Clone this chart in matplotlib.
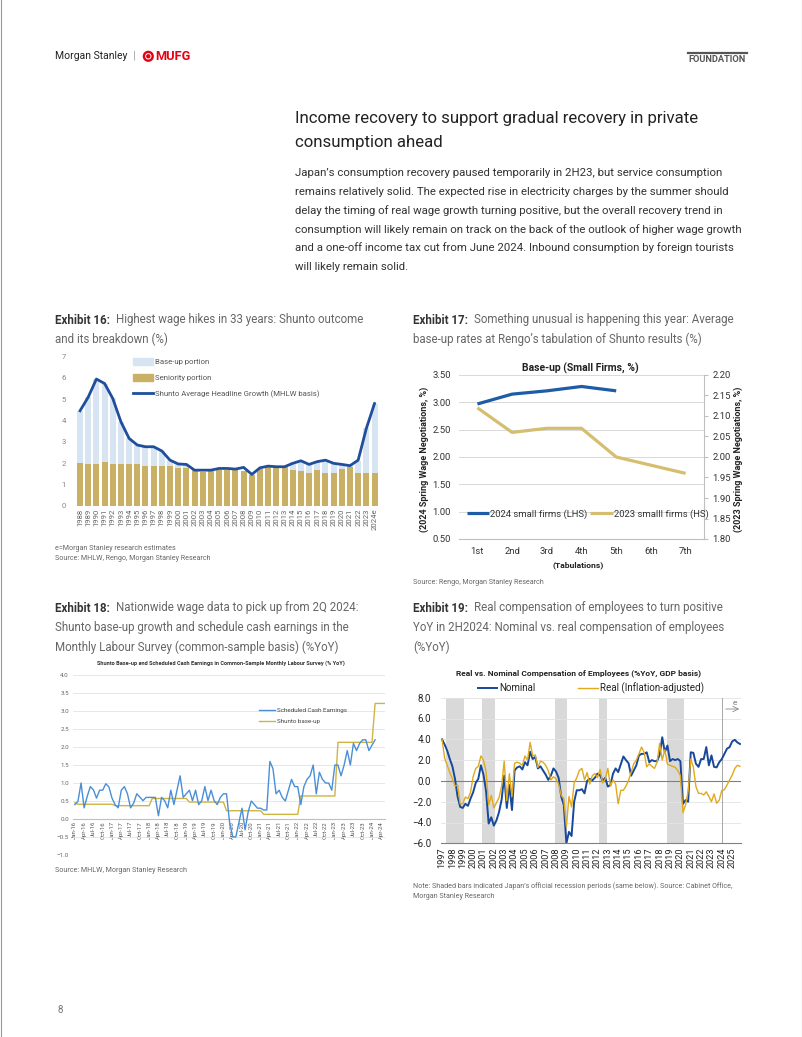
import numpy as np
import matplotlib
matplotlib.use('Agg')
import matplotlib.pyplot as plt
from matplotlib.patches import Circle, Patch
from matplotlib.lines import Line2D

W, H = 802, 1037
plt.rcParams['font.family'] = ['Liberation Sans Narrow', 'Roboto', 'DejaVu Sans']

# ---------------- Exhibit 16: Shunto outcome and breakdown
years16 = [str(y) for y in range(1988, 2024)] + ['2024e']
headline16 = [4.46, 5.10, 5.95, 5.74, 5.04, 3.94, 3.16, 2.85, 2.77, 2.77, 2.57, 2.14, 1.96,
              1.94, 1.67, 1.67, 1.67, 1.75, 1.75, 1.72, 1.80, 1.47, 1.78, 1.86, 1.83, 1.83,
              1.99, 2.11, 1.94, 2.07, 2.14, 1.99, 1.94, 1.88, 2.14, 3.63, 4.80]
seniority16 = [2.02, 1.97, 1.97, 2.05, 1.97, 1.97, 1.97, 1.97, 1.87, 1.87, 1.87, 1.87, 1.78,
               1.78, 1.67, 1.57, 1.67, 1.70, 1.70, 1.70, 1.62, 1.45, 1.72, 1.80, 1.80, 1.80,
               1.70, 1.62, 1.55, 1.70, 1.55, 1.52, 1.72, 1.80, 1.52, 1.52, 1.52]
baseup16 = [2.44, 3.13, 3.98, 3.69, 3.07, 1.97, 1.19, 0.88, 0.90, 0.90, 0.70, 0.27, 0.18,
            0.16, 0.0, 0.0, 0.0, 0.0, 0.0, 0.0, 0.0, 0.0, 0.0, 0.0, 0.0, 0.0,
            0.35, 0.50, 0.42, 0.38, 0.55, 0.48, 0.22, 0.08, 0.58, 2.11, 3.28]

# ---------------- Exhibit 17: Rengo tabulations, small firms
tabs17 = ['1st', '2nd', '3rd', '4th', '5th', '6th', '7th']
small24 = [2.97, 3.15, 3.21, 3.29, 3.21]
small23 = [2.12, 2.06, 2.07, 2.07, 2.00, 1.98, 1.96]

# ---------------- Exhibit 18: monthly, Jan-16 onwards
sched18 = [0.40, 0.49, 1.00, 0.31, 0.63, 0.90, 0.81, 0.58, 0.80, 0.80,
           0.98, 0.89, 0.58, 0.40, 0.31, 0.80, 0.90, 0.70, 0.31, 0.44,
           0.70, 0.61, 0.51, 0.60, 0.60, 0.60, 0.60, 0.09, 0.60, 0.51,
           0.31, 0.80, 0.40, 0.80, 1.20, 0.60, 0.70, 0.80, 0.51, 0.80,
           0.40, 0.51, 0.90, 0.51, 0.80, 0.51, 0.40, 0.60, 0.70, 0.70,
           -0.10, -0.50, -0.50, -0.10, 0.30, -0.30, 0.20, 0.50, 0.40, 0.30,
           0.30, 0.25, 0.25, 1.60, 1.40, 0.70, 0.80, 0.60, 0.50, 0.80,
           1.10, 0.90, 0.90, 0.40, 0.90, 1.10, 1.20, 1.50, 0.70, 1.30,
           1.10, 1.00, 1.00, 0.80, 1.50, 1.50, 1.20, 1.50, 1.90, 1.50,
           2.10, 1.90, 2.10, 2.20, 2.20, 1.90, 2.05, 2.20]
shunto_years18 = [2015, 2016, 2017, 2018, 2019, 2020, 2021, 2022, 2023, 2024]
shunto_vals18 = [0.45, 0.41, 0.37, 0.57, 0.47, 0.23, 0.13, 0.64, 2.13, 3.21]
n_months18 = 101
tick_months18 = ['Jan', 'Apr', 'Jul', 'Oct']

# ---------------- Exhibit 19: quarterly, 1997Q1 - 2025Q4
nominal19 = [4.0, 3.5, 2.9, 2.1, 1.4, 0.2, -1.5, -2.5, -2.6, -2.2,
             -2.4, -1.7, -1.1, -0.2, 0.2, 1.5, 0.6, -1.0, -4.1, -3.5,
             -4.3, -3.8, -3.0, -1.8, 0.5, -2.6, -0.4, -2.8, 1.0, 1.3,
             1.4, 1.1, 1.8, 1.5, 2.8, 2.1, 2.3, 1.2, 1.4, 1.0,
             0.6, 0.1, 0.5, 1.2, 0.9, 0.3, -1.5, -2.3, -6.0,
             -4.9, -5.3, -2.0, -0.9, -0.9, -0.8, -1.2, 0.0, 0.2, 0.05,
             0.3, 0.7, 0.55, 0.0, 0.3, -0.55, -0.4, 0.7, 1.2, 0.85,
             1.6, 2.35, 2.0, 1.7, 0.5, 1.0, 1.5, 2.45, 2.6, 2.6,
             2.75, 1.8, 2.0, 1.9, 1.9, 2.5, 4.2, 2.75, 3.4, 1.9,
             2.1, 2.0, 2.1, 1.9, -2.2, -1.85, -2.0, 2.75, 2.7, 1.65,
             1.35, 2.1, 2.1, 3.25, 1.5, 2.45, 1.35, 1.3, 1.8, 2.1,
             2.6, 3.1, 3.25, 3.8, 3.95, 3.7, 3.55]
real19 = [4.0, 2.2, 1.5, 0.8, 0.2, -0.5, -0.4, -2.2, -2.2, -1.55,
          -1.7, -1.1, 0.4, 1.2, 1.4, 2.4, 2.0, 0.9, -2.3, -1.4,
          -2.6, -2.1, -1.6, -0.5, 1.9, -1.9, 0.7, -1.5, 1.7, 1.8,
          1.7, 1.5, 2.4, 2.0, 3.7, 2.4, 2.5, 1.3, 1.9, 1.8,
          1.5, 1.0, 0.1, 0.4, 0.2, -0.3, -1.4, -1.7, -4.4, -1.5,
          -2.5, -0.2, 0.3, 1.0, 1.2, 0.1, 0.8, -0.3, 0.5, 0.7,
          0.3, 1.1, -0.2, 0.2, 1.2, -0.5, 0.1, -0.3, -2.2, -0.9,
          -0.9, -0.5, 0.05, 0.85, 1.65, 2.0, 2.6, 3.25, 2.75, 1.35,
          1.65, 1.4, 1.2, 1.8, 3.6, 2.0, 3.0, 1.6, 1.5, 1.4,
          1.3, 1.0, 0.5, -3.05, -2.3, -1.0, 2.1, 1.35, -0.55, -1.2,
          -1.2, -1.35, -1.05, -1.5, -2.0, -1.25, -2.15, -1.85, -0.9, -0.85,
          -0.4, 0.1, 0.55, 1.2, 1.5, 1.4]
recessions19 = [(1997.4, 1999.1), (2000.9, 2002.1), (2007.9, 2009.1),
                (2012.15, 2012.9), (2018.7, 2020.35)]
forecast_start19 = 2024


def rect(x0, y0, x1, y1):
    return [x0 / W, 1 - y1 / H, (x1 - x0) / W, (y1 - y0) / H]


fig = plt.figure(figsize=(W / 100, H / 100), dpi=100)
page = fig.add_axes([0, 0, 1, 1])
page.set_xlim(0, W)
page.set_ylim(H, 0)
page.axis('off')
R = fig.canvas.get_renderer()


def text_w(s, size, **kw):
    t = page.text(0, 0, s, fontsize=size, **kw)
    w = t.get_window_extent(renderer=R).width
    t.remove()
    return w


def fit(s, width, **kw):
    return 10 * width / text_w(s, 10, **kw)


def put(x, y, s, size, **kw):
    kw.setdefault('va', 'center')
    return page.text(x, y, s, fontsize=size, **kw)


# ---------------- page header
page.plot([0.5, 0.5], [0, H], color='#999', lw=0.8)
page.plot([801.5, 801.5], [0, H], color='#999', lw=0.8)
put(55, 56, 'Morgan Stanley', fit('Morgan Stanley', 72), color='#222')
put(134, 56, '|', 8, color='#999', ha='center')
page.add_patch(Circle((148.3, 56.3), 4.4, fill=False, ec='#E60012', lw=1.7))
page.add_patch(Circle((148.3, 56.3), 1.5, color='#E60012'))
put(155, 56.5, 'MUFG', fit('MUFG', 35, fontweight='bold'), color='#E60012', fontweight='bold')
page.plot([688, 746.5], [52.7, 52.7], color='#555', lw=1.6)
put(688, 59.5, 'FOUNDATION', fit('FOUNDATION', 58, fontweight='bold'),
    color='#555', fontweight='bold')

# ---------------- headline and body text
title_lines = ['Income recovery to support gradual recovery in private', 'consumption ahead']
ts = fit(title_lines[0], 405)
put(295, 119, title_lines[0], ts, color='#222')
put(295, 142, title_lines[1], ts, color='#222')

body = ['Japan\u2019s consumption recovery paused temporarily in 2H23, but service consumption',
        'remains relatively solid. The expected rise in electricity charges by the summer should',
        'delay the timing of real wage growth turning positive, but the overall recovery trend in',
        'consumption will likely remain on track on the back of the outlook of higher wage growth',
        'and a one-off income tax cut from June 2024. Inbound consumption by foreign tourists',
        'will likely remain solid.']
bs = fit(body[3], 448)
for i, line in enumerate(body):
    put(295, 173.5 + 18.6 * i, line, bs, color='#333')

# ---------------- captions
cw10 = text_w('Exhibit 17:', 10, fontweight='bold') + text_w(
    'Something unusual is happening this year: Average', 10)
cs = 10 * (322 - 6) / cw10


def caption(x, y, head, rest):
    if head:
        t = put(x, y, head, cs, fontweight='bold', color='#333')
        x = x + t.get_window_extent(renderer=R).width + 6
    put(x, y, rest, cs, color='#666')


caption(55, 320, 'Exhibit 16:', 'Highest wage hikes in 33 years: Shunto outcome')
caption(55, 339, '', 'and its breakdown (%)')
caption(413, 320, 'Exhibit 17:', 'Something unusual is happening this year: Average')
caption(413, 339, '', 'base-up rates at Rengo\u2019s tabulation of Shunto results (%)')
caption(55, 608, 'Exhibit 18:', 'Nationwide wage data to pick up from 2Q 2024:')
caption(55, 628, '', 'Shunto base-up growth and schedule cash earnings in the')
caption(55, 647, '', 'Monthly Labour Survey (common-sample basis) (%YoY)')
caption(413, 608, 'Exhibit 19:', 'Real compensation of employees to turn positive')
caption(413, 628, '', 'YoY in 2H2024: Nominal vs. real compensation of employees')
caption(413, 647, '', '(%YoY)')

ss = fit('Source: MHLW, Rengo, Morgan Stanley Research', 155)
put(55, 549, 'e=Morgan Stanley research estimates', ss, color='#666')
put(55, 559, 'Source: MHLW, Rengo, Morgan Stanley Research', ss, color='#666')
put(413, 582, 'Source: Rengo, Morgan Stanley Research', ss, color='#666')
put(55, 871, 'Source: MHLW, Morgan Stanley Research', ss, color='#666')
put(413, 886, 'Note: Shaded bars indicated Japan\u2019s official recession periods (same below). '
    'Source: Cabinet Office,', ss, color='#666')
put(413, 897, 'Morgan Stanley Research', ss, color='#666')
put(57, 1010, '8', 7, color='#777')

# ---------------- Exhibit 16 chart
ax1 = fig.add_axes(rect(73, 356.7, 380, 505.7))
ax1.set_facecolor('none')
x16 = np.arange(len(years16))
ax1.bar(x16, seniority16, width=0.73, color='#C9B064', zorder=2)
ax1.bar(x16, baseup16, width=0.73, bottom=seniority16, color='#D7E4F1', zorder=2)
ax1.plot(x16, headline16, color='#1F4E9B', lw=2.0, zorder=3)
ax1.set_xlim(-0.86, 36.67)
ax1.set_ylim(0, 7)
ax1.set_xticks(x16)
ax1.set_xticklabels(years16, rotation=90, fontsize=5.6, color='#666')
ax1.set_yticks(range(8))
ax1.tick_params(axis='y', labelsize=5.6, labelcolor='#888', length=0, pad=5)
ax1.tick_params(axis='x', length=0, pad=2)
for s in ax1.spines.values():
    s.set_visible(False)
h16 = [Patch(color='#D7E4F1', label='Base-up portion'),
       Patch(color='#C9B064', label='Seniority portion'),
       Line2D([], [], color='#1F4E9B', lw=2.0, label='Shunto Average Headline Growth (MHLW basis)')]
ax1.legend(handles=h16, loc='upper left', bbox_to_anchor=(0.195, 0.99), frameon=False,
           fontsize=5.6, handlelength=2.6, handleheight=1.0, labelspacing=1.15,
           handletextpad=0.3, borderpad=0, borderaxespad=0, labelcolor='#555')

# ---------------- Exhibit 17 chart
ax2 = fig.add_axes(rect(459, 375, 704, 539))
ax2.set_facecolor('none')
x17 = np.arange(len(tabs17))
ax2.set_xlim(-0.53, 6.53)
ax2.set_ylim(0.5, 3.5)
ax2.set_yticks(np.arange(0.5, 3.51, 0.5))
ax2.yaxis.set_major_formatter('{x:.2f}')
ax2.grid(axis='y', color='#d9d9d9', lw=0.7)
ax2.set_axisbelow(True)
ax2.set_xticks(x17)
ax2.set_xticklabels(tabs17)
ax2.tick_params(axis='y', labelsize=6.8, labelcolor='#333', length=0, pad=6)
ax2.tick_params(axis='x', labelsize=6.8, labelcolor='#333', length=0, pad=6)
for k in ['left', 'top', 'right']:
    ax2.spines[k].set_visible(False)
ax2.spines['bottom'].set_color('#bfbfbf')
l24, = ax2.plot(np.arange(len(small24)), small24, color='#1F5CA8', lw=2.3,
                label='2024 small firms (LHS)', solid_capstyle='butt')
ax2b = ax2.twinx()
ax2b.set_ylim(1.8, 2.2)
ax2b.set_yticks(np.arange(1.80, 2.201, 0.05))
ax2b.yaxis.set_major_formatter('{x:.2f}')
ax2b.tick_params(axis='y', labelsize=6.8, labelcolor='#333', length=3, color='#bfbfbf', pad=3)
for k in ['left', 'top', 'bottom']:
    ax2b.spines[k].set_visible(False)
ax2b.spines['right'].set_color('#bfbfbf')
l23, = ax2b.plot(x17, small23, color='#D5BE6F', lw=2.3, label='2023 smalll firms (HS)',
                 solid_capstyle='butt')
ax2b.legend(handles=[l24, l23], ncol=2, loc='center left',
            bbox_to_anchor=((466.7 - 459) / 245, (539 - 514) / 164), frameon=False,
            fontsize=6.8, handlelength=2.4, handletextpad=0.1, columnspacing=0.25,
            borderpad=0, borderaxespad=0, labelcolor='#333')
put(580, 368, 'Base-up (Small Firms, %)', fit('Base-up (Small Firms, %)', 117, fontweight='bold'),
    fontweight='bold', color='#222', ha='center')
put(578, 565, '(Tabulations)', fit('(Tabulations)', 51, fontweight='bold'),
    fontweight='bold', color='#222', ha='center')
ls = fit('(2024 Spring Wage Negotiations, %)', 147, fontweight='bold')
put(424.5, 459, '(2024 Spring Wage Negotiations, %)', ls, fontweight='bold', color='#222',
    ha='center', rotation=90)
put(738.5, 459, '(2023 Spring Wage Negotiations, %)', ls, fontweight='bold', color='#222',
    ha='center', rotation=90)

# ---------------- Exhibit 18 chart
ax3 = fig.add_axes(rect(73, 675, 385, 855))
ax3.set_facecolor('none')
ax3.spines['bottom'].set_position(('data', 0))
m18 = np.arange(n_months18)
shunto_monthly = [shunto_vals18[shunto_years18.index(2016 + (m - 1) // 12)] for m in m18]
ax3.plot(m18, shunto_monthly, color='#CDB544', lw=1.0, zorder=3)
ax3.plot(np.arange(len(sched18)), sched18, color='#4A8FD6', lw=1.0, zorder=4)
ax3.set_xlim(-0.6, 100.2)
ax3.set_ylim(-1, 4)
ax3.set_yticks(np.arange(-1, 4.01, 0.5))
ax3.yaxis.set_major_formatter('{x:.1f}')
ax3.grid(axis='y', color='#e3e3e3', lw=0.6)
ax3.set_axisbelow(True)
tick_idx = np.arange(0, 100, 3)
ax3.set_xticks(tick_idx)
ax3.set_xticklabels([f'{tick_months18[(i // 3) % 4]}-{16 + i // 12}' for i in tick_idx])
ax3.tick_params(axis='y', labelsize=4.5, labelcolor='#666', length=0, pad=3)
ax3.tick_params(axis='x', length=0, pad=1.5, labelsize=4.3, labelcolor='#555',
                labelrotation=90)
for k in ['left', 'top', 'right']:
    ax3.spines[k].set_visible(False)
ax3.spines['bottom'].set_color('#bfbfbf')
h18 = [Line2D([], [], color='#4A8FD6', lw=1.0, label='Scheduled Cash Earnings'),
       Line2D([], [], color='#CDB544', lw=1.0, label='Shunto base-up')]
ax3.legend(handles=h18, loc='upper left', bbox_to_anchor=(0.596, 0.817), frameon=False,
           fontsize=4.5, handlelength=2.6, labelspacing=0.9, handletextpad=0.3,
           borderpad=0, borderaxespad=0, labelcolor='#444')
t18 = 'Shunto Base-up and Scheduled Cash Earnings in Common-Sample Monthly Labour Survey (% YoY)'
put(221, 663, t18, fit(t18, 250, fontweight='bold'), fontweight='bold', color='#333', ha='center')

# ---------------- Exhibit 19 chart
ax4 = fig.add_axes(rect(441, 697.7, 741, 843.3))
ax4.set_facecolor('none')
t19 = 1997 + np.arange(len(nominal19)) / 4
for a, b in recessions19:
    ax4.axvspan(a, b, color='#d9d9d9', lw=0, zorder=0)
ax4.axhline(0, color='#808080', lw=0.8, zorder=1)
ax4.axvline(forecast_start19, color='#999', lw=0.6, zorder=1)
ln_nom, = ax4.plot(t19, nominal19, color='#17489A', lw=1.4, zorder=3, label='Nominal')
ln_real, = ax4.plot(t19, real19, color='#E0A91E', lw=1.0, zorder=4,
                    label='Real (Inflation-adjusted)')
ax4.set_xlim(1996.9, 2025.85)
ax4.set_ylim(-6, 8)
ax4.set_yticks(np.arange(-6, 8.1, 2))
ax4.yaxis.set_major_formatter('{x:.1f}')
ax4.grid(axis='y', color='#e3e3e3', lw=0.6)
ax4.set_axisbelow(True)
yrs19 = np.arange(1997, 2026)
ax4.set_xticks(yrs19)
ax4.set_xticklabels([str(y) for y in yrs19], rotation=90, fontsize=6.6, color='#222')
ax4.tick_params(axis='y', labelsize=7, labelcolor='#222', length=0, pad=7)
ax4.tick_params(axis='x', length=0, pad=3)
for k in ['left', 'top', 'right']:
    ax4.spines[k].set_visible(False)
ax4.spines['bottom'].set_color('#808080')
ax4.legend(handles=[ln_nom, ln_real], ncol=2, loc='center left',
           bbox_to_anchor=((478 - 441) / 300, (843.3 - 688) / 145.6), frameon=False,
           fontsize=7, handlelength=2.0, handletextpad=0.2, columnspacing=4.4,
           borderpad=0, borderaxespad=0, labelcolor='#222')
t19s = 'Real vs. Nominal Compensation of Employees (%YoY, GDP basis)'
put(579, 673, t19s, fit(t19s, 245, fontweight='bold'), fontweight='bold', color='#222', ha='center')
page.annotate('', xy=(742, 709), xytext=(723, 709),
              arrowprops=dict(arrowstyle='->', color='#888', lw=0.6))
put(735, 703, 'e', 6, color='#777', ha='center')

fig.savefig('out.png', dpi=100)
